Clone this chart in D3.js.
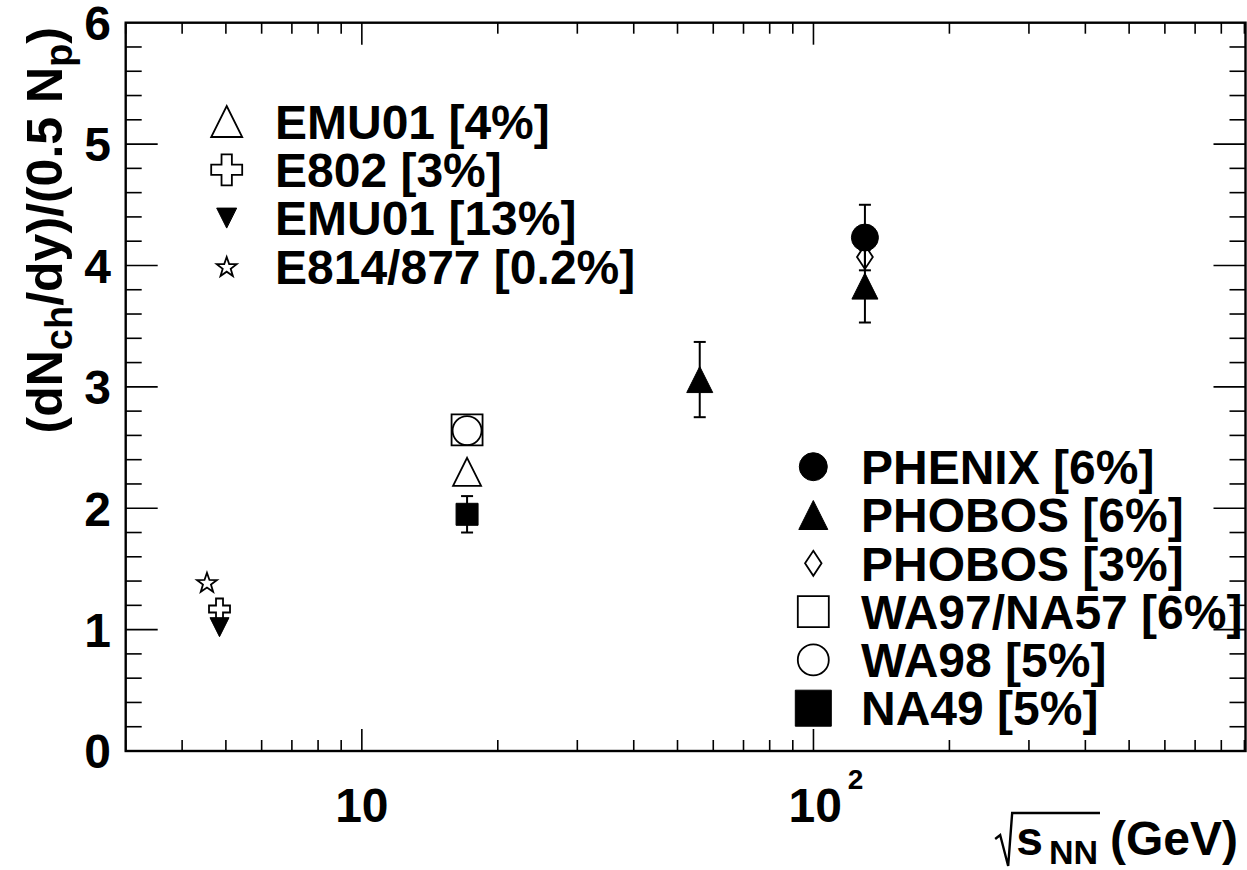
<!DOCTYPE html>
<html>
<head>
<meta charset="utf-8">
<script src="https://cdn.jsdelivr.net/npm/d3@7"></script>
<style>
  body { margin: 0; background: #fff; }
  text { font-family: "Liberation Sans", Arial, Helvetica, sans-serif; font-weight: bold; fill: #000; }
</style>
</head>
<body>
<svg id="chart" width="1247" height="870"></svg>
<script>
// Charged-particle multiplicity per participant pair versus collision energy.

// Experiments (legend entries)
const experiments = ["EMU01 [4%]", "E802 [3%]", "EMU01 [13%]", "E814/877 [0.2%]",
                     "PHENIX [6%]", "PHOBOS [6%]", "PHOBOS [3%]", "WA97/NA57 [6%]", "WA98 [5%]", "NA49 [5%]"];

// Measured points (index into experiments, sqrt(s_NN) in GeV, value, error; 0 = no error bar)
const pointExperiment = [3, 1, 2, 0, 7, 8, 9, 5, 6, 5, 4];
const pointEnergy     = [4.54, 4.84, 4.84, 17.1, 17.1, 17.1, 17.1, 56, 130, 130, 130];
const pointValue      = [1.39, 1.17, 1.02, 2.30, 2.645, 2.64, 1.95, 3.06, 4.07, 3.83, 4.23];
const pointError      = [0, 0, 0, 0, 0, 0, 0.15, 0.31, 0, 0.30, 0.27];

// Axis ticks
const xMajorTicks = [10, 100];
const xMinorTicks = [3, 4, 5, 6, 7, 8, 9, 20, 30, 40, 50, 60, 70, 80, 90, 200, 300, 400, 500, 600, 700, 800, 900];
const yMajorTicks = [0, 1, 2, 3, 4, 5, 6];

// Which experiments go in which legend block
const legendLeft  = [0, 1, 2, 3];
const legendRight = [4, 5, 6, 7, 8, 9];

// Marker styles per experiment
const markerStyle = [
  { shape: "triUp",   fill: false, size: 28, legendSize: 31 },
  { shape: "cross",   fill: false, size: 21, legendSize: 31 },
  { shape: "triDown", fill: true,  size: 19, legendSize: 20 },
  { shape: "star",    fill: false, size: 21, legendSize: 21 },
  { shape: "circle",  fill: true,  size: 27, legendSize: 28 },
  { shape: "triUp",   fill: true,  size: 26, legendSize: 29 },
  { shape: "diamond", fill: false, size: 24, legendSize: 25 },
  { shape: "square",  fill: false, size: 31, legendSize: 31 },
  { shape: "circle",  fill: false, size: 29, legendSize: 31 },
  { shape: "square",  fill: true,  size: 22, legendSize: 36 }
];

const svg = d3.select("#chart");
const frame = { left: 125.7, right: 1245.5, top: 22.7, bottom: 751 };

const x = d3.scaleLog().domain([3, 905]).range([frame.left, frame.right]);
const y = d3.scaleLinear().domain([0, 6]).range([frame.bottom, frame.top]);

function markerPath(shape, w) {
  const r = w / 2;
  switch (shape) {
    case "circle":
      return `M${r},0A${r},${r} 0 1,1 ${-r},0A${r},${r} 0 1,1 ${r},0Z`;
    case "square":
      return `M${-r},${-r}H${r}V${r}H${-r}Z`;
    case "triUp":
      return `M0,${-r}L${r},${r}L${-r},${r}Z`;
    case "triDown":
      return `M0,${r}L${r},${-r}L${-r},${-r}Z`;
    case "diamond":
      return `M0,${-r}L${r * 0.66},0L0,${r}L${-r * 0.66},0Z`;
    case "cross": {
      const a = r / 3;
      return `M${-a},${-r}H${a}V${-a}H${r}V${a}H${a}V${r}H${-a}V${a}H${-r}V${-a}H${-a}Z`;
    }
    case "star": {
      const pts = [];
      for (let i = 0; i < 10; i++) {
        const rr = i % 2 === 0 ? r : r * 0.4;
        const ang = -Math.PI / 2 + i * Math.PI / 5;
        pts.push([rr * Math.cos(ang), rr * Math.sin(ang) + r * 0.1]);
      }
      return "M" + pts.map(p => p.join(",")).join("L") + "Z";
    }
  }
}

function drawMarker(g, idx, cx, cy, size) {
  const st = markerStyle[idx];
  g.append("path")
    .attr("d", markerPath(st.shape, size))
    .attr("transform", `translate(${cx},${cy})`)
    .attr("fill", st.fill ? "#000" : "none")
    .attr("stroke", "#000")
    .attr("stroke-width", st.fill ? 1 : 1.8)
    .attr("stroke-linejoin", "miter");
}

// Ticks (bottom/top and left/right)
const ticks = svg.append("g").attr("stroke", "#000").attr("stroke-width", 1.6);
xMajorTicks.forEach(v => {
  ticks.append("line").attr("x1", x(v)).attr("x2", x(v)).attr("y1", frame.bottom).attr("y2", frame.bottom - 22);
  ticks.append("line").attr("x1", x(v)).attr("x2", x(v)).attr("y1", frame.top).attr("y2", frame.top + 22);
});
xMinorTicks.forEach(v => {
  ticks.append("line").attr("x1", x(v)).attr("x2", x(v)).attr("y1", frame.bottom).attr("y2", frame.bottom - 11);
  ticks.append("line").attr("x1", x(v)).attr("x2", x(v)).attr("y1", frame.top).attr("y2", frame.top + 11);
});
d3.range(0, 30).map(i => i * 0.2).forEach(v => {
  const major = Math.abs(v - Math.round(v)) < 1e-6;
  const len = major ? 32 : 16;
  ticks.append("line").attr("y1", y(v)).attr("y2", y(v)).attr("x1", frame.left).attr("x2", frame.left + len);
  ticks.append("line").attr("y1", y(v)).attr("y2", y(v)).attr("x1", frame.right).attr("x2", frame.right - len);
});

// Frame
svg.append("rect")
  .attr("x", frame.left).attr("y", frame.top)
  .attr("width", frame.right - frame.left).attr("height", frame.bottom - frame.top)
  .attr("fill", "none").attr("stroke", "#000").attr("stroke-width", 2.4);

// Y tick labels
svg.append("g").selectAll("text").data(yMajorTicks).join("text")
  .attr("x", 111).attr("y", d => y(d)).attr("dy", "0.36em")
  .attr("text-anchor", "end").attr("font-size", 48)
  .text(d => d);

// X tick labels: 10 and 10^2
svg.append("text").attr("x", x(10)).attr("y", 822).attr("text-anchor", "middle")
  .attr("font-size", 48).text("10");
const lab100 = svg.append("text").attr("x", x(100) - 25).attr("y", 822).attr("font-size", 48);
lab100.append("tspan").text("10");
lab100.append("tspan").attr("font-size", 28).attr("dx", 6).attr("dy", -33).text("2");

// Y axis title
const yTitle = svg.append("text")
  .attr("transform", "translate(62,27) rotate(-90)")
  .attr("text-anchor", "end").attr("font-size", 50);
yTitle.append("tspan").text("(dN");
yTitle.append("tspan").attr("font-size", 38).attr("dy", 10).text("ch");
yTitle.append("tspan").attr("dy", -10).text("/dy)/(0.5 N");
yTitle.append("tspan").attr("font-size", 38).attr("dy", 10).text("p");
yTitle.append("tspan").attr("dy", -10).text(")");

// X axis title: sqrt(s_NN) (GeV)
const gev = svg.append("text").attr("x", 1238).attr("y", 855)
  .attr("text-anchor", "end").attr("font-size", 48).text("(GeV)");
const gevBox = gev.node().getBBox();
const sTxt = svg.append("text").attr("x", gevBox.x - 12).attr("y", 855)
  .attr("text-anchor", "end").attr("font-size", 48);
sTxt.append("tspan").text("s");
sTxt.append("tspan").attr("font-size", 34).attr("dx", 6).attr("dy", 9).text("NN");
const sBox = sTxt.node().getBBox();
const radLeft = sBox.x - 5;
svg.append("path")
  .attr("d", `M${radLeft - 16},839L${radLeft - 11},835L${radLeft - 3},866L${radLeft + 1},813H${sBox.x + sBox.width + 2}`)
  .attr("fill", "none").attr("stroke", "#000").attr("stroke-width", 2.4);

// Data: error bars then markers, point by point
const plot = svg.append("g");
pointEnergy.forEach((e, i) => {
  const cx = x(e), cy = y(pointValue[i]);
  const err = pointError[i];
  if (err > 0) {
    const g = plot.append("g").attr("stroke", "#000").attr("stroke-width", 2);
    g.append("line").attr("x1", cx).attr("x2", cx).attr("y1", y(pointValue[i] + err)).attr("y2", y(pointValue[i] - err));
    [pointValue[i] + err, pointValue[i] - err].forEach(v => {
      g.append("line").attr("x1", cx - 6).attr("x2", cx + 6).attr("y1", y(v)).attr("y2", y(v));
    });
  }
  drawMarker(plot, pointExperiment[i], cx, cy, markerStyle[pointExperiment[i]].size);
});

// Legends
function drawLegend(items, markerX, textX, y0, step) {
  const g = svg.append("g");
  items.forEach((idx, k) => {
    const cy = y0 + k * step;
    drawMarker(g, idx, markerX, cy, markerStyle[idx].legendSize);
    g.append("text").attr("x", textX).attr("y", cy).attr("dy", "0.36em")
      .attr("font-size", 48).text(experiments[idx]);
  });
}
drawLegend(legendLeft, 226.7, 275, 121.5, 48.3);
drawLegend(legendRight, 813.3, 861, 466.7, 48.3);
</script>
</body>
</html>
